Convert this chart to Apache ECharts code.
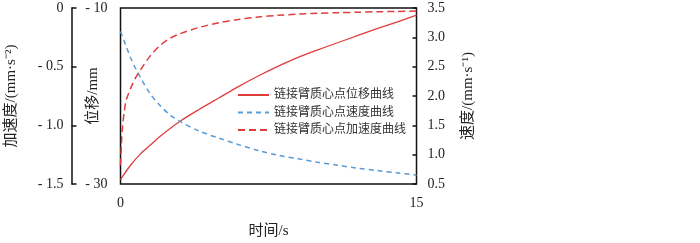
<!DOCTYPE html>
<html>
<head>
<meta charset="utf-8">
<script src="https://cdn.jsdelivr.net/npm/echarts@6/dist/echarts.min.js"></script>
<style>
  html, body { margin: 0; padding: 0; background: #fff; }
  #chart { width: 700px; height: 243px; }
</style>
</head>
<body>
<div id="chart"></div>
<script>
// 位移曲线 (mm)
var timeDisp = [0, 0.5, 1, 1.5, 2, 3, 4, 5, 6, 7, 8, 9, 10, 11, 12, 13, 14, 15];
var dispData = [-29.5, -27.9, -26.6, -25.6, -24.6, -22.9, -21.5, -20.2, -18.9, -17.7, -16.6, -15.6, -14.75, -13.95, -13.15, -12.35, -11.6, -10.8];
// 速度曲线 (mm/s)
var timeVel = [0, 0.25, 0.5, 0.75, 1, 1.5, 2, 2.5, 3, 4, 5, 6, 7, 8, 9, 10, 11, 12, 13, 14, 15];
var velData = [3.10, 2.88, 2.66, 2.48, 2.32, 2.04, 1.84, 1.68, 1.57, 1.40, 1.28, 1.17, 1.07, 0.99, 0.93, 0.87, 0.82, 0.77, 0.73, 0.69, 0.65];
// 加速度曲线 (mm/s^2)
var timeAcc = [0, 0.05, 0.1, 0.2, 0.3, 0.5, 0.75, 1, 1.5, 2, 2.5, 3, 4, 5, 6, 7, 8, 9, 10, 11, 12, 13, 14, 15];
var accData = [-1.34, -1.15, -1.02, -0.87, -0.78, -0.69, -0.60, -0.53, -0.41, -0.32, -0.26, -0.22, -0.165, -0.125, -0.097, -0.076, -0.062, -0.052, -0.045, -0.040, -0.036, -0.032, -0.029, -0.026];

var seriesNames = ['链接臂质心点位移曲线', '链接臂质心点速度曲线', '链接臂质心点加速度曲线'];
var xTicks = [0, 15];

var RED = '#E03C3C';
var BLUE = '#5B9BD5';
var numFont = '"Liberation Serif", "Noto Sans CJK SC", serif';
var cjkFont = '"Liberation Serif", "Noto Sans CJK SC", sans-serif';

function pairs(xs, ys) {
  return xs.map(function (x, i) { return [x, ys[i]]; });
}
function minusFmt(v, digits) {
  var s = digits ? Math.abs(v).toFixed(digits) : String(Math.abs(v));
  if (v === 0) return '0';
  return v < 0 ? '- ' + s : s;
}

var myChart = echarts.init(document.getElementById('chart'));
var option = {
  backgroundColor: '#fff',
  animation: false,
  grid: {
    left: 120.5,
    right: 283.5,
    top: 8,
    bottom: 59,
    show: true,
    borderColor: '#111',
    borderWidth: 1.5,
    containLabel: false,
    outerBoundsMode: 'none'
  },
  legend: {
    orient: 'vertical',
    left: 237,
    top: 89,
    padding: 0,
    itemWidth: 31,
    itemHeight: 12,
    itemGap: 5.5,
    itemStyle: { opacity: 0, borderWidth: 0 },
    textStyle: { fontSize: 12, color: '#333', fontFamily: cjkFont },
    data: seriesNames
  },
  xAxis: {
    type: 'value',
    min: xTicks[0],
    max: xTicks[1],
    interval: xTicks[1] - xTicks[0],
    name: '时间/s',
    nameLocation: 'middle',
    nameGap: 40,
    nameTextStyle: { fontSize: 15, color: '#222', fontFamily: cjkFont },
    axisLine: { show: false },
    axisTick: { show: false },
    splitLine: { show: false },
    axisLabel: { margin: 12, fontSize: 14, color: '#222', fontFamily: numFont }
  },
  yAxis: [
    {
      // 位移
      type: 'value',
      position: 'left',
      min: -30,
      max: -10,
      interval: 20,
      name: '位移/mm',
      nameLocation: 'middle',
      nameRotate: 90,
      nameGap: 20,
      nameMoveOverlap: false,
      nameTextStyle: { fontSize: 15, color: '#222', fontFamily: cjkFont },
      axisLine: { show: false },
      axisTick: { show: false },
      splitLine: { show: false },
      axisLabel: {
        margin: 13, fontSize: 14, color: '#222', fontFamily: numFont,
        formatter: function (v) { return minusFmt(v, 0); }
      }
    },
    {
      // 加速度
      type: 'value',
      position: 'left',
      offset: 49,
      min: -1.5,
      max: 0,
      interval: 0.5,
      name: '加速度/(mm·s⁻²)',
      nameLocation: 'middle',
      nameRotate: 90,
      nameGap: 53,
      nameMoveOverlap: false,
      nameTextStyle: { fontSize: 15, color: '#222', fontFamily: cjkFont },
      axisLine: { show: true, onZero: false, lineStyle: { color: '#111', width: 1.5 } },
      axisTick: { show: true, inside: true, length: 5, lineStyle: { color: '#111', width: 1.5 } },
      splitLine: { show: false },
      axisLabel: {
        margin: 8, fontSize: 14, color: '#222', fontFamily: numFont,
        formatter: function (v) { return minusFmt(v, 1); }
      }
    },
    {
      // 速度
      type: 'value',
      position: 'right',
      min: 0.5,
      max: 3.5,
      interval: 0.5,
      name: '速度/(mm·s⁻¹)',
      nameLocation: 'middle',
      nameRotate: 90,
      nameGap: 44,
      nameMoveOverlap: false,
      nameTextStyle: { fontSize: 15, color: '#222', fontFamily: cjkFont },
      axisLine: { show: false },
      axisTick: { show: true, inside: true, length: 4, lineStyle: { color: '#111', width: 1.5 } },
      splitLine: { show: false },
      axisLabel: {
        margin: 11, fontSize: 14, color: '#222', fontFamily: numFont,
        formatter: function (v) { return v.toFixed(1); }
      }
    }
  ],
  series: [
    {
      name: seriesNames[0],
      type: 'line',
      yAxisIndex: 0,
      symbol: 'none',
      smooth: 0.3,
      lineStyle: { color: RED, width: 1.3, type: 'solid' },
      itemStyle: { color: RED },
      data: pairs(timeDisp, dispData)
    },
    {
      name: seriesNames[1],
      type: 'line',
      yAxisIndex: 2,
      symbol: 'none',
      smooth: 0.3,
      lineStyle: { color: BLUE, width: 1.5, type: [5, 4] },
      itemStyle: { color: BLUE },
      data: pairs(timeVel, velData)
    },
    {
      name: seriesNames[2],
      type: 'line',
      yAxisIndex: 1,
      symbol: 'none',
      smooth: 0.3,
      lineStyle: { color: RED, width: 1.5, type: [7, 4] },
      itemStyle: { color: RED },
      data: pairs(timeAcc, accData)
    }
  ]
};
myChart.setOption(option);
</script>
</body>
</html>
